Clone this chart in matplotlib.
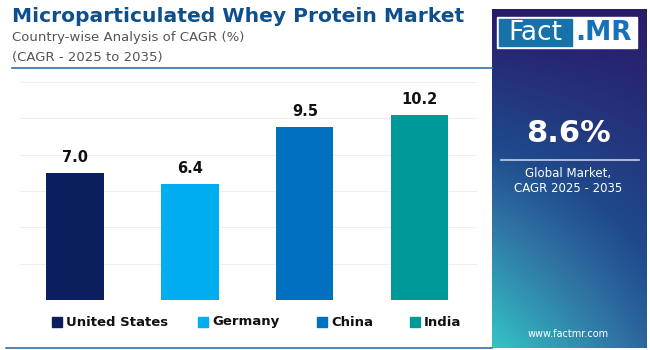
import numpy as np
import matplotlib.pyplot as plt
from matplotlib.patches import Rectangle
from matplotlib.colors import LinearSegmentedColormap

# Data
countries = ["United States", "Germany", "China", "India"]
cagr = [7.0, 6.4, 9.5, 10.2]
colors = ["#0b1f5e", "#00aeef", "#0070c0", "#009999"]
global_cagr = "8.6%"

W, H = 650, 350
fig = plt.figure(figsize=(6.5, 3.5), dpi=100)
fig.patch.set_facecolor("white")

def fx(px):
    return px / W

def fy(py):
    return 1 - py / H

# Titles
fig.text(fx(12), fy(17), "Microparticulated Whey Protein Market", fontsize=14.6,
         fontweight="bold", color="#0e4f8c", va="center", ha="left")
fig.text(fx(12), fy(37), "Country-wise Analysis of CAGR (%)", fontsize=9.5,
         color="#555555", va="center", ha="left")
fig.text(fx(12), fy(57), "(CAGR - 2025 to 2035)", fontsize=9.5,
         color="#555555", va="center", ha="left")

# separator lines
fig.add_artist(plt.Line2D([fx(12), fx(492)], [fy(68), fy(68)], color="#2f6fae", lw=1.2))
fig.add_artist(plt.Line2D([fx(6), fx(492)], [fy(348), fy(348)], color="#2f6fae", lw=1.2))

# Bar chart
ax = fig.add_axes([fx(20), fy(300), fx(477) - fx(20), fy(82) - fy(300)])
x = np.arange(len(countries))
ax.bar(x, cagr, width=0.5, color=colors, zorder=3)
for xi, v in zip(x, cagr):
    ax.text(xi, v + 0.45, f"{v:.1f}", ha="center", va="bottom",
            fontsize=10.5, fontweight="bold", color="#111111")
ax.set_ylim(0, 12)
ax.set_xlim(-0.48, 3.5)
ax.set_yticks(np.arange(0, 13, 2))
ax.grid(axis="y", color="#eeeeee", lw=0.8, zorder=0)
ax.set_xticks([])
ax.tick_params(left=False, labelleft=False)
for s in ax.spines.values():
    s.set_visible(False)

# Legend
leg_x = [52, 198, 317, 410]
for name, c, lx in zip(countries, colors, leg_x):
    fig.add_artist(Rectangle((fx(lx), fy(327)), fx(10), fy(317) - fy(327),
                             color=c, transform=fig.transFigure))
    fig.text(fx(lx + 14), fy(322), name, fontsize=9.5, fontweight="bold",
             color="#111111", va="center", ha="left")

# Right panel with gradient
pax = fig.add_axes([fx(492), fy(348), fx(647) - fx(492), fy(9) - fy(348)])
cmap = LinearSegmentedColormap.from_list(
    "panel", [(0, "#2a1a6a"), (0.4, "#1f4a8c"), (0.6, "#2f70a2"), (1.0, "#35c4c6")])
gy, gx = np.mgrid[0:1:200j, 0:1:100j]
grad = gy * (0.55 + 0.45 * (1 - gx))
pax.imshow(grad, cmap=cmap, aspect="auto", extent=[0, 1, 1, 0], vmin=0, vmax=1)
pax.set_xlim(0, 1)
pax.set_ylim(1, 0)
pax.axis("off")

# Logo
fig.add_artist(Rectangle((fx(497), fy(48)), fx(140), fy(17) - fy(48),
                         color="white", transform=fig.transFigure))
fig.add_artist(Rectangle((fx(499), fy(46)), fx(73), fy(19) - fy(46),
                         color="#1672a8", transform=fig.transFigure))
fig.text(fx(535), fy(33), "Fact", fontsize=19, color="white", ha="center", va="center")
fig.text(fx(604), fy(33), ".MR", fontsize=19, color="#1672b8", fontweight="bold",
         ha="center", va="center")

fig.text(fx(568), fy(133), global_cagr, fontsize=22, fontweight="bold",
         color="white", ha="center", va="center")
fig.add_artist(plt.Line2D([fx(501), fx(639)], [fy(160), fy(160)], color="#c8d0e8", lw=1.2))
fig.text(fx(568), fy(174), "Global Market,", fontsize=8.5, color="white",
         ha="center", va="center")
fig.text(fx(568), fy(189), "CAGR 2025 - 2035", fontsize=8.5, color="white",
         ha="center", va="center")
fig.text(fx(568), fy(334), "www.factmr.com", fontsize=7, color="white",
         ha="center", va="center")

fig.savefig("out.png", dpi=100, facecolor="white")
